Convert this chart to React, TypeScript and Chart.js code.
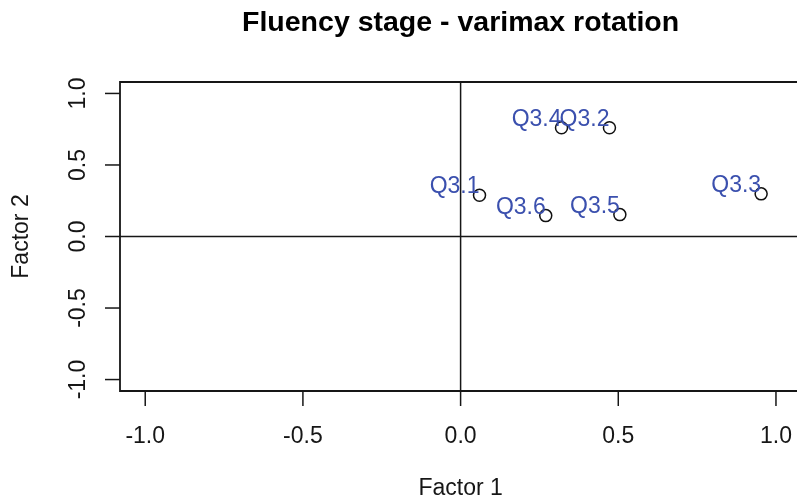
import React, { useEffect, useRef } from "react";
import { Chart, registerables } from "chart.js";

Chart.register(...registerables);

const itemLabels = ["Q3.1", "Q3.2", "Q3.3", "Q3.4", "Q3.5", "Q3.6"];
const factor1 = [0.06, 0.472, 0.953, 0.32, 0.505, 0.27];
const factor2 = [0.288, 0.76, 0.298, 0.76, 0.153, 0.146];
const xTicks = [-1.0, -0.5, 0.0, 0.5, 1.0];
const yTicks = [-1.0, -0.5, 0.0, 0.5, 1.0];
const titleText = "Fluency stage - varimax rotation";
const xTitle = "Factor 1";
const yTitle = "Factor 2";

const FONT = '"Liberation Sans", Arial, Helvetica, sans-serif';
const INK = "#161616";
const LABEL_BLUE = "#3b50ae";

const rPlotPlugin = {
  id: "rPlot",
  beforeDatasetsDraw(chart: any) {
    const ctx = chart.ctx as CanvasRenderingContext2D;
    const { left, right, top, bottom } = chart.chartArea;
    const xs = chart.scales.x;
    const ys = chart.scales.y;
    ctx.save();
    ctx.strokeStyle = INK;
    ctx.lineWidth = 1.8;
    // box (right edge lies outside the picture)
    ctx.beginPath();
    ctx.moveTo(right + 5, top);
    ctx.lineTo(left, top);
    ctx.lineTo(left, bottom);
    ctx.lineTo(right + 5, bottom);
    ctx.stroke();
    // reference lines at 0
    const x0 = xs.getPixelForValue(0);
    const y0 = ys.getPixelForValue(0);
    ctx.lineWidth = 1.5;
    ctx.beginPath();
    ctx.moveTo(x0, top);
    ctx.lineTo(x0, bottom);
    ctx.moveTo(left, y0);
    ctx.lineTo(right, y0);
    ctx.stroke();
    // x ticks
    ctx.lineWidth = 1.5;
    ctx.fillStyle = INK;
    ctx.font = `23px ${FONT}`;
    ctx.textAlign = "center";
    ctx.textBaseline = "middle";
    for (const v of xTicks) {
      const px = xs.getPixelForValue(v);
      ctx.beginPath();
      ctx.moveTo(px, bottom);
      ctx.lineTo(px, bottom + 15);
      ctx.stroke();
      ctx.fillText(v.toFixed(1), px, 437);
    }
    // y ticks
    for (const v of yTicks) {
      const py = ys.getPixelForValue(v);
      ctx.beginPath();
      ctx.moveTo(left - 15, py);
      ctx.lineTo(left, py);
      ctx.stroke();
      ctx.save();
      ctx.translate(79, py);
      ctx.rotate(-Math.PI / 2);
      ctx.fillText(v.toFixed(1), 0, 0);
      ctx.restore();
    }
    // axis titles
    const cx = xs.getPixelForValue(0);
    ctx.fillText(xTitle, cx, 489);
    ctx.save();
    ctx.translate(22, (top + bottom) / 2);
    ctx.rotate(-Math.PI / 2);
    ctx.fillText(yTitle, 0, 0);
    ctx.restore();
    // main title
    ctx.font = `bold 28.5px ${FONT}`;
    ctx.fillStyle = "#000";
    ctx.fillText(titleText, cx, 23);
    ctx.restore();
  },
  afterDatasetsDraw(chart: any) {
    const ctx = chart.ctx as CanvasRenderingContext2D;
    const xs = chart.scales.x;
    const ys = chart.scales.y;
    ctx.save();
    ctx.fillStyle = LABEL_BLUE;
    ctx.font = `23px ${FONT}`;
    ctx.textAlign = "right";
    ctx.textBaseline = "alphabetic";
    itemLabels.forEach((lab, i) => {
      const px = xs.getPixelForValue(factor1[i]);
      const py = ys.getPixelForValue(factor2[i]);
      ctx.fillText(lab, px, py - 2);
    });
    ctx.restore();
  },
};

export default function App() {
  const ref = useRef<HTMLCanvasElement | null>(null);
  useEffect(() => {
    if (!ref.current) return;
    const chart = new Chart(ref.current, {
      type: "scatter",
      data: {
        datasets: [
          {
            label: "loadings",
            data: factor1.map((x, i) => ({ x, y: factor2[i] })),
            pointStyle: "circle",
            pointRadius: 6,
            pointHoverRadius: 6,
            borderColor: "#111",
            backgroundColor: "rgba(0,0,0,0)",
            pointBorderWidth: 1.5,
            borderWidth: 1.5,
          },
        ],
      },
      options: {
        responsive: false,
        animation: false,
        events: [],
        layout: { autoPadding: false, padding: { left: 120, top: 82, right: 0, bottom: 113 } },
        plugins: {
          legend: { display: false },
          tooltip: { enabled: false },
          title: { display: false },
        },
        scales: {
          x: { type: "linear", min: -1.08, max: 1.0667, display: false },
          y: { type: "linear", min: -1.08, max: 1.08, display: false },
        },
      },
      plugins: [rPlotPlugin],
    });
    return () => chart.destroy();
  }, []);
  return (
    <div style={{ position: "fixed", left: 0, top: 0, width: 797, height: 504, background: "#fff" }}>
      <canvas ref={ref} width={797} height={504} style={{ display: "block" }} />
    </div>
  );
}
